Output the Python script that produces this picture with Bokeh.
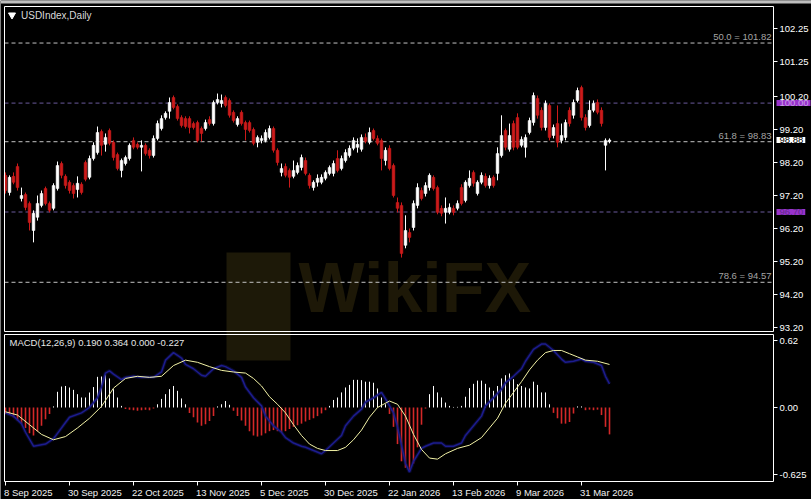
from bokeh.plotting import figure
from bokeh.models import (Range1d, FixedTicker, Label, ColumnDataSource, LinearAxis,
                          NumeralTickFormatter, BoxAnnotation)
from bokeh.embed import file_html
from bokeh.resources import INLINE
from bokeh.core.properties import value

# ---------------- data ----------------
opens = [97.81, 97.29, 97.78, 98.08, 97.11, 97.23, 96.96, 96.14, 96.54, 96.90,
         97.41, 96.96, 96.81, 97.41, 98.17, 97.78, 97.60, 97.50, 97.38, 97.54,
         98.20, 97.75, 98.32, 98.50, 99.14, 98.75, 99.17, 98.81, 98.44, 97.96,
         98.17, 98.32, 98.87, 98.75, 98.66, 98.72, 98.57, 98.41, 98.93, 99.23,
         99.56, 99.75, 100.17, 99.90, 99.56, 99.53, 99.53, 99.38, 99.41, 99.23,
         99.23, 99.50, 99.38, 100.02, 99.99, 100.17, 100.08, 99.72, 99.35, 99.72,
         99.41, 99.41, 99.20, 98.81, 98.87, 98.87, 98.96, 99.23, 98.57, 97.90,
         98.08, 97.96, 97.78, 97.90, 98.05, 98.26, 97.81, 97.44, 97.60, 97.60,
         97.72, 97.87, 97.87, 98.32, 98.02, 98.26, 98.41, 98.63, 98.66, 98.60,
         98.96, 98.81, 99.17, 98.93, 98.87, 98.26, 98.63, 98.11, 96.99, 96.90,
         95.69, 96.08, 96.23, 96.90, 97.35, 97.26, 97.44, 97.75, 97.44, 96.81,
         96.69, 96.69, 96.81, 96.81, 97.44, 97.05, 97.50, 97.90, 97.26, 97.60,
         97.78, 97.50, 97.75, 97.87, 98.41, 99.17, 98.60, 99.38, 99.56, 98.72,
         98.66, 99.11, 99.41, 100.14, 99.78, 99.26, 99.93, 99.02, 99.38, 98.87,
         98.96, 99.78, 99.63, 100.08, 100.47, 99.56, 99.32, 99.78, 100.02, 99.78,
         98.72, 98.84]
highs = [97.90, 97.81, 97.90, 98.17, 97.44, 97.29, 97.02, 96.75, 97.20, 97.35,
         97.47, 97.02, 97.57, 98.23, 98.23, 97.84, 97.66, 97.57, 97.78, 97.60,
         98.26, 98.41, 98.81, 99.29, 99.20, 99.08, 99.23, 98.87, 98.50, 98.32,
         98.41, 98.78, 98.96, 98.81, 98.87, 98.78, 98.63, 99.02, 99.47, 99.63,
         99.75, 100.17, 100.23, 99.96, 99.63, 99.60, 99.60, 99.44, 99.47, 99.29,
         99.50, 99.60, 100.08, 100.29, 100.26, 100.23, 100.14, 99.78, 99.60, 99.78,
         99.47, 99.47, 99.26, 99.02, 99.02, 99.20, 99.32, 99.29, 98.63, 98.17,
         98.17, 98.02, 98.26, 98.20, 98.44, 98.35, 97.87, 97.66, 97.84, 97.84,
         97.96, 98.11, 98.26, 98.57, 98.41, 98.60, 98.72, 98.96, 98.93, 99.05,
         99.08, 99.26, 99.23, 99.02, 98.93, 98.66, 98.72, 98.17, 97.14, 96.99,
         96.60, 96.20, 97.05, 97.57, 97.44, 97.60, 97.87, 97.81, 97.50, 96.90,
         97.14, 96.96, 96.90, 97.05, 97.54, 97.66, 97.96, 97.96, 97.66, 97.90,
         97.87, 97.81, 97.81, 98.66, 99.63, 99.23, 99.38, 99.47, 99.69, 98.99,
         99.05, 99.56, 100.32, 100.23, 99.87, 100.08, 99.99, 99.35, 99.93, 99.38,
         99.50, 99.87, 100.11, 100.47, 100.53, 99.66, 100.08, 100.08, 100.11, 99.87,
         98.93, 98.93]
lows = [97.26, 97.20, 97.54, 97.35, 97.02, 96.75, 96.14, 95.78, 96.44, 96.84,
        96.90, 96.69, 96.75, 97.35, 97.72, 97.41, 97.26, 97.11, 97.14, 97.23,
        97.63, 97.69, 98.26, 98.44, 98.41, 98.53, 98.72, 98.26, 97.96, 97.75,
        98.11, 98.26, 98.60, 98.60, 97.93, 98.41, 98.32, 98.35, 98.87, 99.17,
        99.50, 99.53, 99.81, 99.47, 99.26, 99.23, 99.08, 99.20, 98.81, 98.84,
        99.17, 99.32, 99.32, 99.96, 99.87, 99.87, 99.56, 99.41, 99.29, 99.32,
        98.87, 99.11, 98.72, 98.66, 98.78, 98.81, 98.90, 98.50, 98.11, 97.78,
        97.75, 97.44, 97.72, 97.84, 97.96, 97.81, 97.41, 97.35, 97.47, 97.54,
        97.66, 97.81, 97.78, 97.90, 97.96, 98.20, 98.35, 98.57, 98.50, 98.53,
        98.78, 98.75, 98.87, 98.72, 97.96, 98.11, 97.96, 97.14, 96.69, 95.32,
        95.60, 95.78, 96.14, 96.81, 97.05, 97.17, 97.35, 97.35, 96.63, 96.57,
        96.35, 96.63, 96.60, 96.75, 96.90, 96.99, 97.44, 97.47, 97.20, 97.54,
        97.44, 97.41, 97.44, 97.66, 98.35, 98.57, 98.53, 98.57, 98.60, 98.66,
        98.35, 99.05, 99.32, 99.53, 99.17, 99.17, 98.87, 98.93, 98.66, 98.78,
        98.87, 99.29, 99.53, 100.02, 99.47, 99.17, 99.26, 99.72, 99.66, 99.29,
        97.96, 98.78]
closes = [97.35, 97.75, 97.60, 97.44, 97.20, 96.84, 96.38, 96.66, 96.96, 97.26,
          96.96, 96.75, 97.50, 98.11, 97.81, 97.50, 97.35, 97.26, 97.57, 97.29,
          97.69, 98.32, 98.72, 99.11, 98.72, 98.96, 98.78, 98.35, 98.02, 98.26,
          98.35, 98.72, 98.66, 98.66, 98.72, 98.47, 98.41, 98.93, 99.38, 99.53,
          99.69, 100.02, 99.87, 99.53, 99.32, 99.29, 99.26, 99.26, 98.87, 99.08,
          99.41, 99.38, 100.02, 100.11, 100.08, 99.93, 99.63, 99.47, 99.53, 99.38,
          99.20, 99.17, 98.78, 98.96, 98.93, 99.11, 99.23, 98.57, 98.20, 98.02,
          97.81, 97.75, 97.96, 98.11, 98.35, 97.87, 97.50, 97.60, 97.72, 97.75,
          97.90, 98.05, 98.17, 97.96, 98.32, 98.50, 98.63, 98.87, 98.75, 98.96,
          98.84, 99.11, 98.93, 98.78, 98.32, 98.57, 98.02, 97.20, 96.81, 95.44,
          96.14, 95.93, 96.96, 97.44, 97.11, 97.50, 97.81, 97.41, 96.69, 96.66,
          96.81, 96.84, 96.69, 96.96, 96.96, 97.60, 97.72, 97.57, 97.60, 97.81,
          97.50, 97.72, 97.50, 98.47, 99.02, 98.66, 99.02, 98.66, 98.66, 98.90,
          98.96, 99.47, 100.23, 99.63, 99.26, 99.99, 98.96, 99.26, 98.81, 99.02,
          99.41, 99.38, 100.02, 100.38, 99.56, 99.26, 99.78, 99.99, 99.72, 99.38,
          98.87, 98.88]

macd_hist = [-0.06, -0.07, -0.09, -0.12, -0.15, -0.19, -0.24, -0.26, -0.22, -0.17,
             -0.11, -0.06, 0.01, 0.146, 0.195, 0.20, 0.186, 0.164, 0.124, 0.093,
             0.093, 0.139, 0.19, 0.285, 0.288, 0.30, 0.27, 0.17, 0.093, 0.015,
             -0.015, -0.02, -0.025, -0.03, -0.025, -0.02, -0.025, -0.01, 0.03, 0.08,
             0.124, 0.17, 0.20, 0.155, 0.084, 0.03, -0.05, -0.09, -0.14, -0.17,
             -0.155, -0.125, -0.08, 0.01, 0.03, 0.06, 0.025, -0.03, -0.08, -0.12,
             -0.17, -0.22, -0.26, -0.27, -0.26, -0.24, -0.22, -0.21, -0.22, -0.23,
             -0.22, -0.20, -0.18, -0.165, -0.15, -0.13, -0.115, -0.10, -0.08, -0.055,
             -0.025, 0.015, 0.07, 0.093, 0.14, 0.186, 0.21, 0.257, 0.257, 0.254,
             0.24, 0.24, 0.23, 0.177, 0.093, 0.03, -0.06, -0.18, -0.34, -0.50,
             -0.56, -0.59, -0.52, -0.37, -0.16, -0.01, 0.124, 0.20, 0.14, 0.093,
             0.046, 0.015, 0.005, 0.006, 0.015, 0.10, 0.18, 0.22, 0.25, 0.25,
             0.22, 0.186, 0.155, 0.20, 0.27, 0.30, 0.316, 0.263, 0.217, 0.20,
             0.186, 0.177, 0.24, 0.21, 0.14, 0.14, 0.03, -0.05, -0.10, -0.15,
             -0.15, -0.135, -0.056, 0.01, 0.01, -0.025, -0.02, -0.025, -0.02, -0.07,
             -0.18, -0.25]

macd_idx = [0, 2, 4, 5, 7, 10, 12, 13, 15, 16, 19, 21, 23, 24, 25, 26, 27, 29, 30, 32,
            34, 37, 39, 40, 42, 44, 45, 47, 49, 50, 52, 54, 55, 57, 59, 60, 62, 64, 65, 67,
            69, 70, 72, 74, 75, 77, 79, 80, 82, 84, 85, 87, 89, 90, 92, 94, 95, 97, 98, 99,
            100, 101, 102, 104, 105, 107, 109, 110, 112, 114, 115, 117, 119, 120, 122, 124,
            125, 127, 129, 130, 132, 134, 135, 137, 139, 140, 142, 144, 145, 147, 149, 150, 151]
macd_line = [-0.05, -0.08, -0.15, -0.23, -0.36, -0.34, -0.29, -0.24, -0.14, -0.09,
             -0.05, 0.0, 0.09, 0.19, 0.32, 0.34, 0.31, 0.26, 0.28, 0.29,
             0.28, 0.28, 0.33, 0.44, 0.51, 0.46, 0.40, 0.36, 0.30, 0.29,
             0.36, 0.39, 0.38, 0.34, 0.28, 0.19, 0.09, 0.015, -0.08, -0.17,
             -0.23, -0.28, -0.33, -0.36, -0.37, -0.40, -0.43, -0.40, -0.33, -0.26,
             -0.17, -0.08, -0.015, 0.05, 0.09, 0.14, 0.08, -0.05, -0.18, -0.35,
             -0.52, -0.60, -0.50, -0.38, -0.36, -0.33, -0.33, -0.36, -0.36, -0.33,
             -0.26, -0.17, -0.08, 0.015, 0.09, 0.17, 0.23, 0.29, 0.36, 0.43,
             0.54, 0.59, 0.59, 0.53, 0.45, 0.42, 0.43, 0.45, 0.43, 0.42,
             0.39, 0.29, 0.22]

signal_idx = [0, 3, 6, 9, 12, 15, 18, 21, 24, 27, 30, 33, 36, 39, 42, 45, 48, 51, 54, 57,
              60, 62, 64, 66, 68, 70, 72, 74, 76, 78, 80, 83, 85, 87, 89, 91, 93, 96, 98, 100,
              102, 104, 106, 108, 110, 113, 116, 119, 121, 123, 125, 127, 129, 131, 133, 135,
              137, 139, 141, 143, 145, 148, 151]
signal_line = [-0.04, -0.07, -0.16, -0.25, -0.30, -0.27, -0.19, -0.10, 0.01, 0.18,
               0.27, 0.29, 0.28, 0.29, 0.39, 0.44, 0.42, 0.38, 0.345, 0.33,
               0.32, 0.27, 0.20, 0.10, 0.03, -0.05, -0.16, -0.26, -0.34, -0.38,
               -0.40, -0.40, -0.37, -0.30, -0.21, -0.09, 0.0, 0.06, 0.03, -0.08,
               -0.25, -0.39, -0.47, -0.48, -0.43, -0.38, -0.35, -0.28, -0.19, -0.10,
               0.04, 0.14, 0.24, 0.35, 0.44, 0.51, 0.53, 0.53, 0.50, 0.47,
               0.44, 0.43, 0.40]

date_ticks = [0, 16, 32, 48, 64, 80, 96, 112, 128, 144]
date_labels = ["8 Sep 2025", "30 Sep 2025", "22 Oct 2025", "13 Nov 2025", "5 Dec 2025",
               "30 Dec 2025", "22 Jan 2026", "13 Feb 2026", "9 Mar 2026", "31 Mar 2026"]
price_ticks = [93.20, 94.20, 95.20, 96.20, 97.20, 98.20, 99.20, 100.20, 101.25, 102.25]
fib_levels = [101.82, 98.83, 94.57]
fib_labels = ["50.0 = 101.82", "61.8 = 98.83", "78.6 = 94.57"]
sr_levels = [100.00, 96.70]
last_price = 98.88
macd_ticks = [-0.625, 0.0, 0.62]
macd_tick_labels = ["-0.625", "0.00", "0.62"]
macd_title = "MACD(12,26,9) 0.190 0.364 0.000 -0.227"
chart_title = "USDIndex,Daily"

# ---------------- geometry (pixels of the 811x499 canvas) ----------------
W, H = 811, 499
BAR_PX = 4.0          # one daily bar every 4 px
X0_PX = 5.0           # centre of the first bar
PRICE_PX = 33.0       # px per index point
PRICE_REF = (99.20, 129.0)   # price 99.20 sits at y=129
MACD_PX = 107.6       # px per MACD unit
MACD_ZERO_PX = 407.0


def xd(px):  # canvas px -> bar index
    return (px - X0_PX) / BAR_PX


def yp(py):  # canvas px -> price
    return PRICE_REF[0] + (PRICE_REF[1] - py) / PRICE_PX


def ym(py):  # canvas px -> MACD value
    return (MACD_ZERO_PX - py) / MACD_PX


BG = "#000000"
UP = "#FFFFFF"
DOWN = "#CC1A1A"
HIST_DOWN = "#D42828"
FONT = "Liberation Sans"

p = figure(width=W, height=H, x_range=Range1d(xd(0), xd(W)),
           y_range=Range1d(yp(H), yp(0)),
           output_backend="svg", toolbar_location=None,
           x_axis_location=None, y_axis_location=None,
           background_fill_color=BG, border_fill_color=BG, outline_line_color=None,
           min_border_left=0, min_border_right=0, min_border_top=0, min_border_bottom=0)
p.extra_y_ranges = {"macd": Range1d(ym(H), ym(0))}
p.grid.grid_line_color = None

# thin grey strip at the top (window edge)
p.add_layout(BoxAnnotation(bottom=yp(3), fill_color="#BDBDBD", fill_alpha=1.0,
                           line_color=None, level="underlay"))

# watermark
p.quad(left=[xd(226)], right=[xd(290)], bottom=[yp(360)], top=[yp(252)],
       fill_color="#2a230b", fill_alpha=0.7, line_color=None)
p.text(x=[xd(298)], y=[yp(287)], text=["WikiFX"], text_font=value(FONT),
       text_font_size="70px", text_font_style="bold", text_color="#1d1807",
       text_baseline="middle", text_align="left")

# panel borders
LEFT, RIGHT = xd(4), xd(773)
p.add_layout(BoxAnnotation(left=LEFT, right=RIGHT, top=yp(6), bottom=yp(331),
                           fill_color=None, fill_alpha=0, line_color="#FFFFFF",
                           line_width=1, line_alpha=1.0))
p.add_layout(BoxAnnotation(left=LEFT, right=RIGHT, top=ym(334), bottom=ym(481),
                           y_range_name="macd",
                           fill_color=None, fill_alpha=0, line_color="#FFFFFF",
                           line_width=1, line_alpha=1.0))

# level lines
n_f = len(fib_levels)
p.segment(x0=[LEFT] * n_f, x1=[RIGHT] * n_f, y0=fib_levels, y1=fib_levels,
          line_color="#C4C4C4", line_dash="4 3", line_width=1)
n_s = len(sr_levels)
p.segment(x0=[LEFT] * n_s, x1=[RIGHT] * n_s, y0=sr_levels, y1=sr_levels,
          line_color="#6A5A9C", line_dash="4 3", line_width=1)

# candles
idx = list(range(len(opens)))
colors = [UP if c >= o else DOWN for o, c in zip(opens, closes)]
src = ColumnDataSource(dict(
    x=idx, o=opens, h=highs, l=lows, c=closes, color=colors,
    top=[max(o, c) for o, c in zip(opens, closes)],
    bottom=[min(o, c) for o, c in zip(opens, closes)],
))
p.segment(x0="x", y0="l", x1="x", y1="h", line_color="color", line_width=1, source=src)
p.vbar(x="x", top="top", bottom="bottom", width=0.68, fill_color="color",
       line_color="color", line_width=0.5, source=src)

# fib labels
p.text(x=[xd(771)] * n_f, y=fib_levels, text=fib_labels, text_align="right",
       text_baseline="bottom", y_offset=-1, text_font=value(FONT),
       text_font_size="9.5px", text_color="#A4A4A4")

# title
p.scatter(x=[xd(11.5)], y=[yp(14.5)], marker="inverted_triangle", size=7,
          fill_color="#FFFFFF", line_color="#FFFFFF")
p.text(x=[xd(20.5)], y=[yp(15)], text=[chart_title], text_font=value(FONT),
       text_font_size="10px", text_color="#DADADA", text_baseline="middle")

# price axis (right, at the panel border)
ya = LinearAxis(fixed_location=RIGHT, ticker=FixedTicker(ticks=price_ticks),
                formatter=NumeralTickFormatter(format="0.00"))
ya.major_label_text_color = "#FFFFFF"
ya.major_label_text_font = FONT
ya.major_label_text_font_size = "9.5px"
ya.major_tick_out = 4
ya.major_tick_in = 0
ya.major_tick_line_color = "#FFFFFF"
ya.minor_tick_line_color = None
ya.axis_line_color = None
ya.major_label_standoff = 2
p.add_layout(ya, "right")

# MACD axis
ya2 = LinearAxis(fixed_location=RIGHT, y_range_name="macd",
                 ticker=FixedTicker(ticks=macd_ticks))
ya2.major_label_overrides = {t: s for t, s in zip(macd_ticks, macd_tick_labels)}
ya2.major_label_text_color = "#FFFFFF"
ya2.major_label_text_font = FONT
ya2.major_label_text_font_size = "9.5px"
ya2.major_tick_out = 4
ya2.major_tick_in = 0
ya2.major_tick_line_color = "#FFFFFF"
ya2.minor_tick_line_color = None
ya2.axis_line_color = None
ya2.major_label_standoff = 2
p.add_layout(ya2, "right")

# time axis: tick marks from the axis, left-aligned date texts
xa = LinearAxis(fixed_location=yp(481), ticker=FixedTicker(ticks=date_ticks))
xa.major_label_overrides = {t: "" for t in date_ticks}
xa.major_tick_out = 4
xa.major_tick_in = 0
xa.major_tick_line_color = "#FFFFFF"
xa.minor_tick_line_color = None
xa.axis_line_color = None
p.add_layout(xa, "below")
p.text(x=date_ticks, y=[yp(491.5)] * len(date_ticks), text=date_labels,
       text_align="left", text_baseline="middle", x_offset=-1.5,
       text_font=value(FONT), text_font_size="9.5px", text_color="#F0F0F0")

# MACD histogram (white above zero, red below) and lines
pos_x = [i for i, v in zip(idx, macd_hist) if v >= 0]
pos_v = [v for v in macd_hist if v >= 0]
neg_x = [i for i, v in zip(idx, macd_hist) if v < 0]
neg_v = [v for v in macd_hist if v < 0]
p.segment(x0=pos_x, y0=[0.0] * len(pos_x), x1=pos_x, y1=pos_v,
          line_color=UP, line_width=1, y_range_name="macd")
p.segment(x0=neg_x, y0=[0.0] * len(neg_x), x1=neg_x, y1=neg_v,
          line_color=HIST_DOWN, line_width=1.6, y_range_name="macd")
p.line(macd_idx, macd_line, line_color="#141460", line_width=3.5, line_alpha=0.45,
       y_range_name="macd")
p.line(macd_idx, macd_line, line_color="#1C1C8E", line_width=1.5, y_range_name="macd")
p.line(signal_idx, signal_line, line_color="#F2F2A6", line_width=1, y_range_name="macd")
p.text(x=[xd(9)], y=[ym(342)], text=[macd_title], text_baseline="middle",
       text_font=value(FONT), text_font_size="9.5px", text_color="#E6E6E6",
       y_range_name="macd")


# price boxes on the axis
def box_label(level, fill, tcol):
    kw = dict(x=xd(776), y=level, text=f"{level:.2f}", text_baseline="middle",
              text_align="left", text_font=FONT, text_font_size="9.5px",
              text_color=tcol, background_fill_color=fill)
    try:
        return Label(padding=dict(left=3, right=2, top=0, bottom=0), **kw)
    except Exception:
        return Label(padding=1, **kw)


p.add_layout(box_label(sr_levels[0], "#9932CC", "#C9A0E6"))
p.add_layout(box_label(sr_levels[1], "#9932CC", "#5E2A8A"))
p.add_layout(box_label(last_price, "#FFFFFF", "#000000"))

open("out.html", "w").write(file_html(p, INLINE))
